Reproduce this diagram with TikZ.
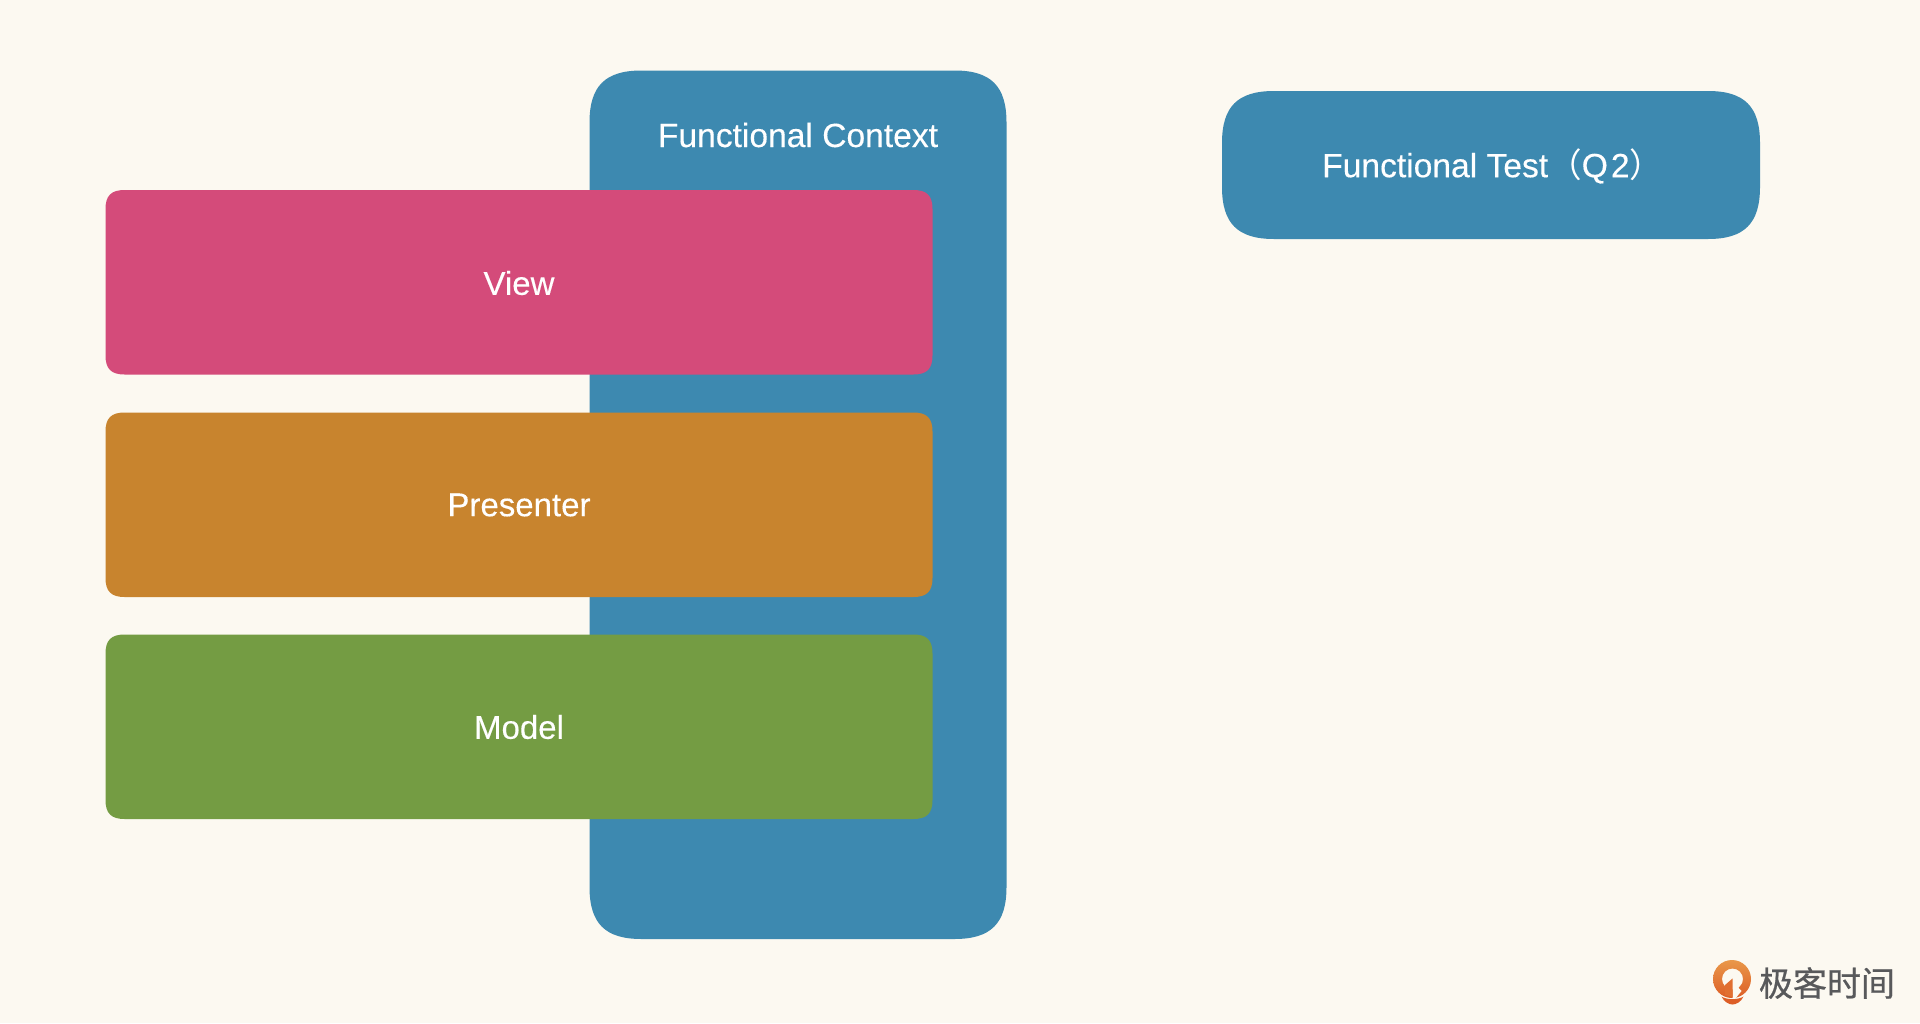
\documentclass[tikz,border=0pt]{standalone}
\usepackage{fontspec}
\setmainfont[FakeBold=0.25]{Liberation Sans}
\newfontfamily\cjk{Noto Sans CJK SC}
\newfontfamily\cjkm[FakeBold=0.7]{Noto Sans CJK SC}
\definecolor{bgc}{HTML}{FCF9F1}
\definecolor{blueb}{HTML}{3D89B0}
\definecolor{viewc}{HTML}{D44B7A}
\definecolor{presc}{HTML}{C8842E}
\definecolor{modelc}{HTML}{749C43}
\definecolor{logot}{HTML}{58595B}
\definecolor{logoa}{HTML}{E9984A}
\definecolor{logob}{HTML}{DD5E26}
% squircle: x0,y0,x1,y1,extent
\newcommand{\sqpath}[5]{
 (#1,#2+#5) .. controls (#1,#2+0.3*#5) and (#1+0.3*#5,#2) .. (#1+#5,#2)
 -- (#3-#5,#2) .. controls (#3-0.3*#5,#2) and (#3,#2+0.3*#5) .. (#3,#2+#5)
 -- (#3,#4-#5) .. controls (#3,#4-0.3*#5) and (#3-0.3*#5,#4) .. (#3-#5,#4)
 -- (#1+#5,#4) .. controls (#1+0.3*#5,#4) and (#1,#4-0.3*#5) .. (#1,#4-#5) -- cycle}
\tikzset{lbl/.style={text=white,font=\fontsize{33}{36}\selectfont,inner sep=0pt},
 lblb/.style={text=white,font=\fontsize{33.6}{36}\selectfont,inner sep=0pt}}
\begin{document}
\begin{tikzpicture}[x=1pt,y=-1pt]
\useasboundingbox (0,0) rectangle (1920,1023);
\fill[bgc] (0,0) rectangle (1920,1023);
\fill[blueb] \sqpath{589.5}{70.5}{1006.5}{939}{52};
\node[lblb] (ctx) at (798,135) {Functional Context};
\fill[blueb] \sqpath{1222}{91}{1760}{239}{52};
\node[lblb,anchor=west] (ft) at (1322,166) {Functional Test{\cjk （}Q\hspace{3pt}2{\cjk ）}};
\fill[viewc] \sqpath{105.5}{190}{932.5}{374.5}{19};
\node[lbl] (view) at (519,283) {View};
\fill[presc] \sqpath{105.5}{412.5}{932.5}{597}{19};
\node[lbl] (pres) at (519,505) {Presenter};
\fill[modelc] \sqpath{105.5}{634.5}{932.5}{819}{19};
\node[lbl] (model) at (519,727) {Model};
% logo
\shade[top color=logoa,bottom color=logob,even odd rule] (1732,979) circle (19) (1732.5,979) circle (10.5);
\fill[bgc] (1732.5,980) -- (1741,980) -- (1738.5,988) -- (1741.5,991) -- (1735,999) -- (1732.5,999) -- cycle;
\fill[logob!70!logoa] (1725,985) -- (1732.5,978.5) -- (1732.5,997) -- (1725,995) -- cycle;
\fill[logob] (1721.5,996.5) .. controls (1727,1000) and (1738,1000) .. (1743.5,996.5)
  .. controls (1741,1002) and (1736,1004.5) .. (1732.5,1004.5)
  .. controls (1729,1004.5) and (1724,1002) .. (1721.5,996.5) -- cycle;
\node[text=logot,inner sep=0pt,font=\cjkm\fontsize{34}{36}\selectfont] (logo) at (1827,983) {极客时间};
\end{tikzpicture}
\end{document}
